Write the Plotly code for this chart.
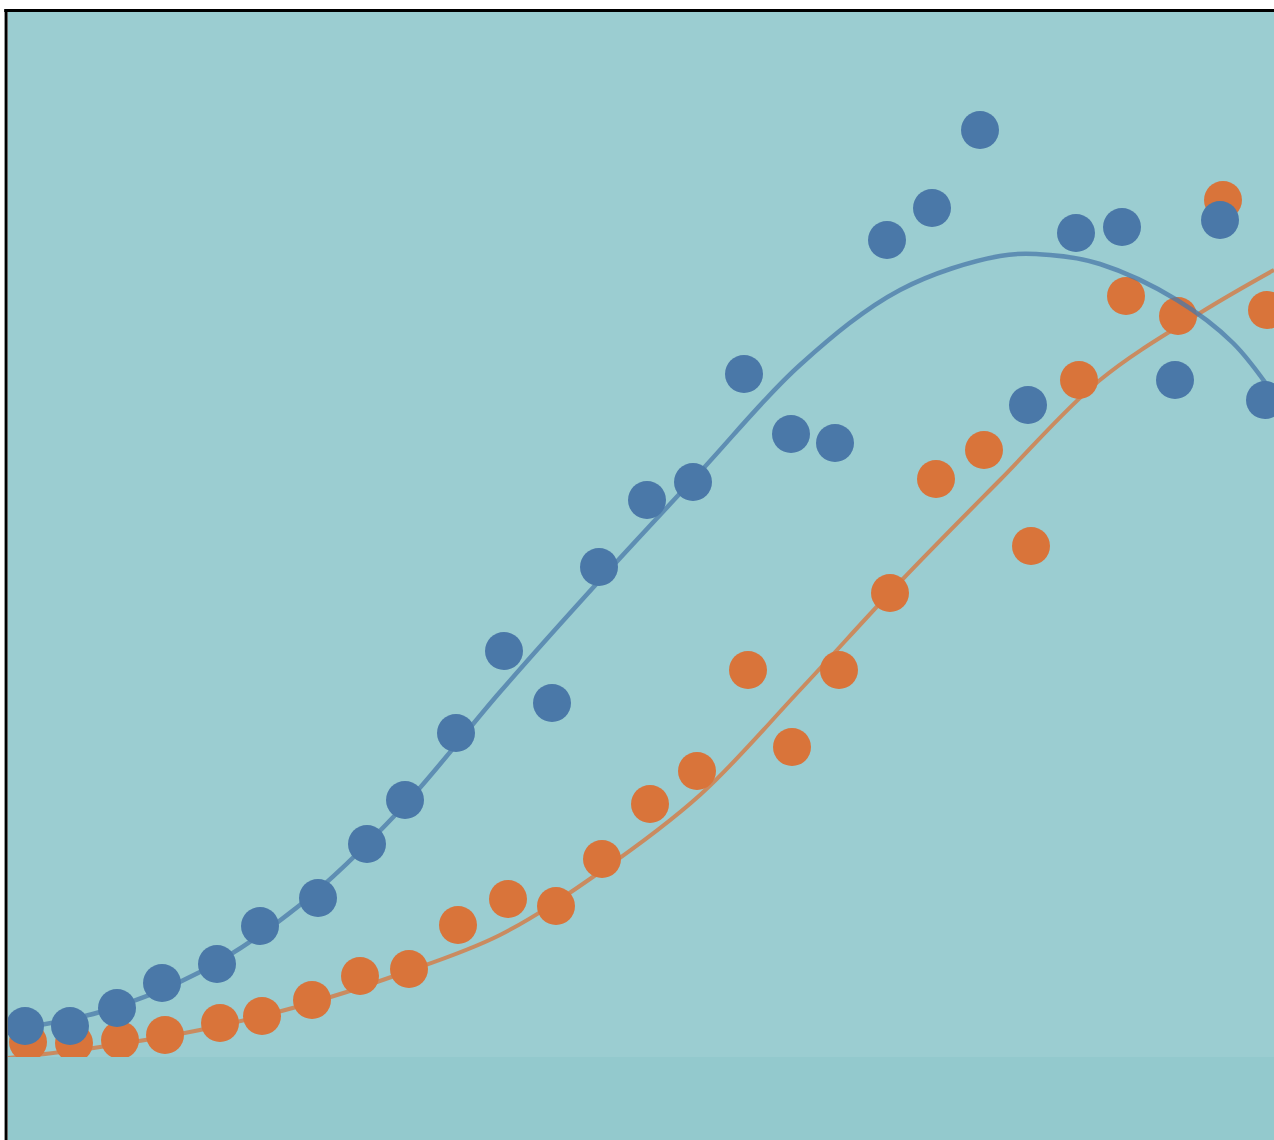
import plotly.graph_objects as go

# Blue series (scatter points)
blue_x = [25, 70, 117, 162, 217, 260, 318, 367, 405, 456, 504, 552, 599, 647, 693,
          744, 791, 835, 887, 932, 980, 1028, 1076, 1122, 1175, 1220, 1265]
blue_y = [114, 114, 132, 157, 176, 214, 242, 296, 340, 407, 489, 437, 573, 640, 658,
          766, 706, 697, 900, 932, 1010, 735, 907, 913, 760, 920, 740]

# Orange series (scatter points)
orange_x = [28, 74, 120, 165, 220, 262, 312, 360, 409, 458, 508, 556, 602, 650, 697,
            748, 792, 839, 890, 936, 984, 1031, 1079, 1126, 1178, 1223, 1267]
orange_y = [98, 97, 100, 105, 117, 124, 140, 164, 171, 215, 241, 234, 281, 336, 369,
            470, 393, 470, 547, 661, 690, 594, 760, 844, 824, 940, 830]

# Fitted curves
blue_fit_x = [8, 100, 200, 300, 400, 500, 600, 700, 800, 900, 1000, 1050, 1100, 1177, 1233, 1274]
blue_fit_y = [110, 128, 168, 235, 330, 448, 560, 668, 775, 850, 884, 885, 876, 840, 797, 745]

orange_fit_x = [8, 100, 200, 300, 400, 500, 600, 700, 800, 900, 1000, 1100, 1200, 1274]
orange_fit_y = [82, 93, 110, 134, 166, 205, 268, 345, 450, 558, 660, 760, 827, 870]

BLUE = "#4a78a8"
ORANGE = "#d9743a"

fig = go.Figure()

fig.add_trace(go.Scatter(x=orange_fit_x, y=orange_fit_y, mode="lines",
                         line=dict(color="rgba(217,116,58,0.75)", width=4, shape="spline", smoothing=1.0),
                         hoverinfo="skip", showlegend=False))

fig.add_trace(go.Scatter(x=orange_x, y=orange_y, mode="markers",
                         marker=dict(color=ORANGE, size=38, line=dict(width=0)),
                         showlegend=False))

fig.add_trace(go.Scatter(x=blue_fit_x, y=blue_fit_y, mode="lines",
                         line=dict(color="rgba(74,120,168,0.75)", width=4.5, shape="spline", smoothing=1.0),
                         hoverinfo="skip", showlegend=False))

fig.add_trace(go.Scatter(x=blue_x, y=blue_y, mode="markers",
                         marker=dict(color=BLUE, size=38, line=dict(width=0)),
                         showlegend=False))

W, H = 1274, 1140
L, T, B = 8, 11, 83

fig.update_layout(
    width=W, height=H,
    margin=dict(l=L, r=0, t=T, b=B, pad=0),
    paper_bgcolor="white",
    plot_bgcolor="#9bcdd1",
    xaxis=dict(range=[8, 1274], visible=False, showgrid=False, zeroline=False),
    yaxis=dict(range=[83, 1129], visible=False, showgrid=False, zeroline=False),
    shapes=[
        dict(type="rect", xref="paper", yref="paper", x0=0, x1=1.01, y0=-0.2, y1=0,
             fillcolor="#93c9cd", line=dict(width=0), layer="below"),
        dict(type="line", xref="paper", yref="paper", x0=-0.003, x1=1.01, y0=1.0005, y1=1.0005,
             line=dict(color="black", width=3)),
        dict(type="line", xref="paper", yref="paper", x0=-0.0015, x1=-0.0015, y0=1.001, y1=-0.2,
             line=dict(color="black", width=3)),
    ],
)

fig.write_html("out.html", config={"displayModeBar": False},
               post_script="document.body.style.margin='0';document.body.style.overflow='hidden';")
